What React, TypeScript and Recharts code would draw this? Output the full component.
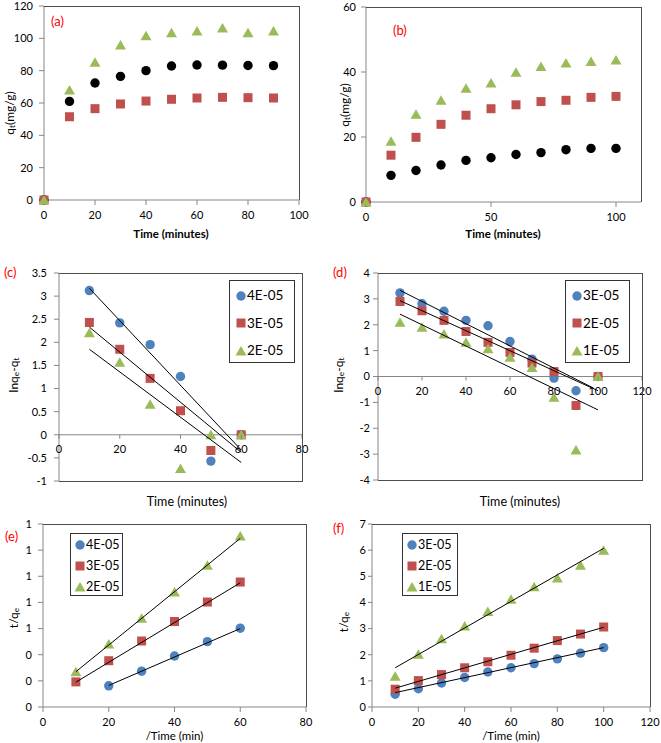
import React from 'react';
import { ScatterChart, Scatter, XAxis, YAxis, ReferenceLine, Legend } from 'recharts';

const FONT = 'Lato, "Liberation Sans", sans-serif';
const GREEN = '#9BBB59';
const RED = '#C0504D';
const BLUE = '#4F81BD';
const BLACK = '#000000';
const AXIS = '#868686';
const FRAME = '#4d4d4d';

// (a) adsorption vs time
const aTime = [0, 10, 20, 30, 40, 50, 60, 70, 80, 90];
const aCircle = [0, 61, 72.4, 76.5, 80, 82.9, 83.5, 83.4, 83.2, 83.1];
const aSquare = [0, 51.5, 56.5, 59.4, 61.2, 62.3, 63.1, 63.5, 63.3, 63.1];
const aTriangle = [0, 68, 85.2, 95.9, 101.6, 103.5, 104.5, 106.4, 103.5, 104.5];
const aXTicks = [0, 20, 40, 60, 80, 100];
const aYTicks = [0, 20, 40, 60, 80, 100, 120];

// (b)
const bTime = [0, 10, 20, 30, 40, 50, 60, 70, 80, 90, 100];
const bCircle = [0, 8.2, 9.7, 11.4, 12.8, 13.6, 14.6, 15.2, 16.1, 16.5, 16.5];
const bSquare = [0, 14.4, 19.9, 23.9, 26.7, 28.7, 29.9, 30.9, 31.3, 32.2, 32.5];
const bTriangle = [0, 18.7, 27, 31.3, 35, 36.6, 39.9, 41.7, 42.8, 43.2, 43.7];
const bXTicks = [0, 50, 100];
const bYTicks = [0, 20, 40, 60];

// (c) pseudo-first-order
const cTime = [10, 20, 30, 40, 50, 60];
const c4 = [3.12, 2.42, 1.95, 1.26, -0.57, 0];
const c3 = [2.43, 1.85, 1.22, 0.52, -0.34, 0];
const c2 = [2.21, 1.57, 0.66, -0.73, 0, 0];
const cFitX = [10, 60];
const c4Fit = [3.17, -0.33];
const c3Fit = [2.33, -0.38];
const c2Fit = [1.85, -0.6];
const cXTicks = [0, 20, 40, 60, 80];
const cYTicks = [-1, -0.5, 0, 0.5, 1, 1.5, 2, 2.5, 3, 3.5];

// (d)
const dTime = [10, 20, 30, 40, 50, 60, 70, 80, 90, 100];
const d3 = [3.23, 2.81, 2.52, 2.17, 1.96, 1.35, 0.67, -0.06, -0.55, 0];
const d2 = [2.9, 2.54, 2.17, 1.74, 1.32, 0.93, 0.52, 0.19, -1.12, 0];
const d1 = [2.1, 1.9, 1.64, 1.32, 1.07, 0.74, 0.35, -0.8, -2.84, 0];
const d3FitX = [10, 98];
const d3Fit = [3.33, -0.45];
const dFitX = [10, 100];
const d2Fit = [2.93, -0.55];
const d1Fit = [2.41, -1.29];
const dXTicks = [0, 20, 40, 60, 80, 100, 120];
const dYTicks = [-4, -3, -2, -1, 0, 1, 2, 3, 4];

// (e) pseudo-second-order
const eTimeC = [20, 30, 40, 50, 60];
const eTime = [10, 20, 30, 40, 50, 60];
const e4 = [0.162, 0.274, 0.39, 0.5, 0.603];
const e3 = [0.192, 0.354, 0.505, 0.654, 0.803, 0.956];
const e2 = [0.269, 0.482, 0.679, 0.879, 1.085, 1.308];
const e4FitX = [20, 60];
const e4Fit = [0.165, 0.6];
const eFitX = [10, 60];
const e3Fit = [0.19, 0.95];
const e2Fit = [0.27, 1.29];
const eXTicks = [0, 20, 40, 60, 80];
const eYTicks = [0, 0.2, 0.4, 0.6, 0.8, 1, 1.2, 1.4];

// (f)
const fTime = [10, 20, 30, 40, 50, 60, 70, 80, 90, 100];
const f3 = [0.49, 0.7, 0.92, 1.13, 1.34, 1.5, 1.66, 1.84, 2.06, 2.27];
const f2 = [0.68, 1.01, 1.24, 1.5, 1.73, 1.98, 2.25, 2.54, 2.79, 3.06];
const f1 = [1.18, 2.02, 2.61, 3.1, 3.65, 4.12, 4.6, 4.93, 5.42, 6.0];
const fFitX = [10, 100];
const f3Fit = [0.55, 2.27];
const f2Fit = [0.72, 3.05];
const f1Fit = [1.5, 6.07];
const fXTicks = [0, 20, 40, 60, 80, 100, 120];
const fYTicks = [0, 1, 2, 3, 4, 5, 6, 7];

type Pt = { x: number; y: number };
type Kind = 'circle' | 'square' | 'triangle';
type Series = { name: string; kind: Kind; color: string; data: Pt[] };
type Part = { t: string; sub?: boolean };

const pts = (xs: number[], ys: number[]): Pt[] => xs.map((x, i) => ({ x, y: ys[i] }));

const Marker = ({ kind, color, cx, cy }: { kind: Kind; color: string; cx: number; cy: number }) => {
  if (kind === 'circle') return <circle cx={cx} cy={cy} r={4.7} fill={color} />;
  if (kind === 'square') return <rect x={cx - 4.5} y={cy - 4.5} width={9} height={9} fill={color} />;
  return <polygon points={`${cx},${cy - 5} ${cx + 5.5},${cy + 4.5} ${cx - 5.5},${cy + 4.5}`} fill={color} />;
};

const Rich = ({ parts, fs }: { parts: Part[]; fs: number }) => {
  let prevSub = false;
  return (
    <>
      {parts.map((p, i) => {
        const dy = p.sub && !prevSub ? 3 : !p.sub && prevSub ? -3 : 0;
        prevSub = !!p.sub;
        return (
          <tspan key={i} dy={dy} fontSize={p.sub ? fs * 0.7 : fs}>
            {p.t}
          </tspan>
        );
      })}
    </>
  );
};

interface LegendBox { left: number; top: number; w: number; h: number; row: number; pad: number; mx: number; tx: number; fs: number }

interface PanelProps {
  left: number; top: number; width: number; height: number;
  plot: { l: number; t: number; r: number; b: number };
  xDomain: [number, number]; xTicks: number[]; xTs: number; xTm: number;
  yDomain: [number, number]; yTicks: number[]; yTs: number; yTm: number; yFmt?: (v: number) => string;
  zeroAxis?: boolean;
  series: Series[];
  fits: Pt[][];
  legend?: LegendBox;
  yTitle: { x: number; cy: number; parts: Part[] };
  xTitle: { text: string; cx: number; base: number; bold?: boolean; fs: number };
}

const XH = 30;

const Panel = (p: PanelProps) => {
  const margin = { top: p.plot.t, right: p.width - p.plot.r, left: 0, bottom: p.height - p.plot.b - XH };
  const plotH = p.plot.b - p.plot.t;
  const zeroOff = (plotH * (0 - p.yDomain[0])) / (p.yDomain[1] - p.yDomain[0]);
  const tickFont = { fontSize: 11, fill: '#000', fontFamily: FONT };

  const zeroTick = (tp: any) => (
    <g>
      <line x1={tp.x} x2={tp.x} y1={tp.y - zeroOff} y2={tp.y - zeroOff + 4} stroke={AXIS} />
      <text x={tp.x} y={tp.y - zeroOff + 18} textAnchor="middle" {...tickFont}>
        {tp.payload.value}
      </text>
    </g>
  );

  const yLabel = () => (
    <text
      x={p.yTitle.x}
      y={p.yTitle.cy}
      transform={`rotate(-90 ${p.yTitle.x} ${p.yTitle.cy})`}
      textAnchor="middle"
      dominantBaseline="central"
      fill="#000"
      fontFamily={FONT}
    >
      <Rich parts={p.yTitle.parts} fs={12} />
    </text>
  );

  const xLabel = () => (
    <text
      x={p.xTitle.cx}
      y={p.xTitle.base}
      textAnchor="middle"
      fill="#000"
      fontFamily={FONT}
      fontSize={p.xTitle.fs}
      fontWeight={p.xTitle.bold ? 700 : 400}
    >
      {p.xTitle.text}
    </text>
  );

  const lg = p.legend;
  const order = p.series.map((s) => s.name);
  const legendContent = (lp: any) => {
    if (!lg) return null;
    const items = (lp.payload || [])
      .filter((e: any) => e.type !== 'none')
      .slice()
      .sort((a: any, b: any) => order.indexOf(a.value) - order.indexOf(b.value));
    return (
      <div
        style={{
          width: lg.w, height: lg.h, boxSizing: 'border-box', border: '1px solid #333',
          background: '#fff', paddingTop: lg.pad, fontFamily: FONT, fontSize: lg.fs, color: '#000',
        }}
      >
        {items.map((e: any) => (
          <div key={e.value} style={{ position: 'relative', height: lg.row }}>
            <svg width={14} height={14} style={{ position: 'absolute', left: lg.mx - 8, top: lg.row / 2 - 7 }}>
              <Marker kind={e.type} color={e.color} cx={7} cy={7} />
            </svg>
            <span style={{ position: 'absolute', left: lg.tx - 1, top: 0, lineHeight: `${lg.row}px` }}>{e.value}</span>
          </div>
        ))}
      </div>
    );
  };

  return (
    <div style={{ position: 'absolute', left: p.left, top: p.top, width: p.width, height: p.height }}>
      <ScatterChart width={p.width} height={p.height} margin={margin}>
        {p.zeroAxis && <ReferenceLine y={0} stroke={AXIS} />}
        <XAxis
          type="number" dataKey="x" domain={p.xDomain} ticks={p.xTicks} interval={0} height={XH}
          axisLine={p.zeroAxis ? false : { stroke: AXIS }}
          tickLine={p.zeroAxis ? false : { stroke: AXIS }}
          tickSize={p.zeroAxis ? 0 : p.xTs} tickMargin={p.zeroAxis ? 0 : p.xTm}
          tick={p.zeroAxis ? zeroTick : tickFont}
          label={xLabel}
        />
        <YAxis
          type="number" dataKey="y" domain={p.yDomain} ticks={p.yTicks} interval={0} width={p.plot.l}
          axisLine={{ stroke: AXIS }} tickLine={{ stroke: AXIS }}
          tickSize={p.yTs} tickMargin={p.yTm} tick={tickFont}
          tickFormatter={p.yFmt}
          label={yLabel}
        />
        {p.series.map((s) => (
          <Scatter
            key={s.name}
            name={s.name}
            data={s.data}
            fill={s.color}
            legendType={s.kind}
            isAnimationActive={false}
            shape={(sp: any) => <Marker kind={s.kind} color={s.color} cx={sp.cx} cy={sp.cy} />}
          />
        ))}
        {p.fits.map((f, i) => (
          <Scatter
            key={`fit${i}`}
            name={`fit${i}`}
            data={f}
            legendType="none"
            line={{ stroke: '#000', strokeWidth: 1 }}
            isAnimationActive={false}
            shape={() => <g />}
          />
        ))}
        {lg && (
          <Legend
            layout="horizontal" verticalAlign="middle" align="center"
            content={legendContent}
            wrapperStyle={{ left: lg.left, top: lg.top, width: lg.w, height: lg.h, margin: 0 }}
          />
        )}
      </ScatterChart>
      {/* plot-area frame: top, right (and bottom when the x axis sits at zero) */}
      <div
        style={{
          position: 'absolute', left: p.plot.l, top: p.plot.t,
          width: p.plot.r - p.plot.l + 1, height: p.plot.b - p.plot.t + (p.zeroAxis ? 1 : 0),
          boxSizing: 'border-box', pointerEvents: 'none',
          borderTop: `1px solid ${FRAME}`, borderRight: `1px solid ${FRAME}`,
          borderBottom: p.zeroAxis ? `1px solid ${FRAME}` : 'none',
        }}
      />
    </div>
  );
};

const qtTitle: Part[] = [{ t: 'q' }, { t: 't', sub: true }, { t: '(mg/g)' }];
const lnTitle: Part[] = [{ t: 'lnq' }, { t: 'e', sub: true }, { t: '-q' }, { t: 't', sub: true }];
const tqTitle: Part[] = [{ t: 't/q' }, { t: 'e', sub: true }];

const tagStyle = (left: number, top: number): React.CSSProperties => ({
  position: 'absolute', left, top, color: '#ff0000', fontFamily: FONT, fontSize: 13, lineHeight: '13px',
});

export default function App() {
  const bigLegend = { left: 0, top: 35, w: 66, h: 83, row: 27.5, pad: 1, mx: 12, tx: 18, fs: 13.5 };
  const smallLegend = { left: 70, top: 18, w: 53, h: 63, row: 21, pad: 0, mx: 10, tx: 16, fs: 12.5 };
  return (
    <div style={{ position: 'absolute', left: 0, top: 0, width: 661, height: 743, background: '#fff', overflow: 'hidden' }}>
      <Panel
        left={0} top={0} width={330} height={245}
        plot={{ l: 44, t: 6, r: 299, b: 200 }}
        xDomain={[0, 100]} xTicks={aXTicks} xTs={5} xTm={6}
        yDomain={[0, 120]} yTicks={aYTicks} yTs={5} yTm={6}
        series={[
          { name: 'c', kind: 'circle', color: BLACK, data: pts(aTime, aCircle) },
          { name: 's', kind: 'square', color: RED, data: pts(aTime, aSquare) },
          { name: 't', kind: 'triangle', color: GREEN, data: pts(aTime, aTriangle) },
        ]}
        fits={[]}
        yTitle={{ x: 9, cy: 113, parts: qtTitle }}
        xTitle={{ text: 'Time (minutes)', cx: 171, base: 238, bold: true, fs: 11.5 }}
      />
      <Panel
        left={330} top={0} width={331} height={245}
        plot={{ l: 36, t: 7, r: 311, b: 202 }}
        xDomain={[0, 110]} xTicks={bXTicks} xTs={5} xTm={6}
        yDomain={[0, 60]} yTicks={bYTicks} yTs={5} yTm={5}
        series={[
          { name: 'c', kind: 'circle', color: BLACK, data: pts(bTime, bCircle) },
          { name: 's', kind: 'square', color: RED, data: pts(bTime, bSquare) },
          { name: 't', kind: 'triangle', color: GREEN, data: pts(bTime, bTriangle) },
        ]}
        fits={[]}
        yTitle={{ x: 14, cy: 105, parts: qtTitle }}
        xTitle={{ text: 'Time (minutes)', cx: 173, base: 238, bold: true, fs: 11.5 }}
      />
      <Panel
        left={0} top={245} width={330} height={270}
        plot={{ l: 59, t: 28, r: 302, b: 236 }}
        xDomain={[0, 80]} xTicks={cXTicks} xTs={0} xTm={0}
        yDomain={[-1, 3.5]} yTicks={cYTicks} yTs={5} yTm={7}
        zeroAxis
        series={[
          { name: '4E-05', kind: 'circle', color: BLUE, data: pts(cTime, c4) },
          { name: '3E-05', kind: 'square', color: RED, data: pts(cTime, c3) },
          { name: '2E-05', kind: 'triangle', color: GREEN, data: pts(cTime, c2) },
        ]}
        fits={[pts(cFitX, c4Fit), pts(cFitX, c3Fit), pts(cFitX, c2Fit)]}
        legend={{ ...bigLegend, left: 229 }}
        yTitle={{ x: 13, cy: 130, parts: lnTitle }}
        xTitle={{ text: 'Time (minutes)', cx: 187, base: 261, fs: 12.5 }}
      />
      <Panel
        left={330} top={245} width={331} height={270}
        plot={{ l: 48, t: 28, r: 312, b: 235 }}
        xDomain={[0, 120]} xTicks={dXTicks} xTs={0} xTm={0}
        yDomain={[-4, 4]} yTicks={dYTicks} yTs={5} yTm={3}
        zeroAxis
        series={[
          { name: '3E-05', kind: 'circle', color: BLUE, data: pts(dTime, d3) },
          { name: '2E-05', kind: 'square', color: RED, data: pts(dTime, d2) },
          { name: '1E-05', kind: 'triangle', color: GREEN, data: pts(dTime, d1) },
        ]}
        fits={[pts(d3FitX, d3Fit), pts(dFitX, d2Fit), pts(dFitX, d1Fit)]}
        legend={{ ...bigLegend, left: 235, w: 65 }}
        yTitle={{ x: 8, cy: 130, parts: lnTitle }}
        xTitle={{ text: 'Time (minutes)', cx: 190, base: 261, fs: 12.5 }}
      />
      <Panel
        left={0} top={515} width={330} height={228}
        plot={{ l: 43, t: 9, r: 306, b: 192 }}
        xDomain={[0, 80]} xTicks={eXTicks} xTs={5} xTm={6}
        yDomain={[0, 1.4]} yTicks={eYTicks} yTs={5} yTm={6}
        yFmt={(v: number) => v.toFixed(0)}
        series={[
          { name: '4E-05', kind: 'circle', color: BLUE, data: pts(eTimeC, e4) },
          { name: '3E-05', kind: 'square', color: RED, data: pts(eTime, e3) },
          { name: '2E-05', kind: 'triangle', color: GREEN, data: pts(eTime, e2) },
        ]}
        fits={[pts(e4FitX, e4Fit), pts(eFitX, e3Fit), pts(eFitX, e2Fit)]}
        legend={smallLegend}
        yTitle={{ x: 12.5, cy: 103, parts: tqTitle }}
        xTitle={{ text: '/Time (min)', cx: 174.5, base: 225, fs: 11.5 }}
      />
      <Panel
        left={330} top={515} width={331} height={228}
        plot={{ l: 42, t: 9, r: 320, b: 192 }}
        xDomain={[0, 120]} xTicks={fXTicks} xTs={5} xTm={6}
        yDomain={[0, 7]} yTicks={fYTicks} yTs={4} yTm={2}
        series={[
          { name: '3E-05', kind: 'circle', color: BLUE, data: pts(fTime, f3) },
          { name: '2E-05', kind: 'square', color: RED, data: pts(fTime, f2) },
          { name: '1E-05', kind: 'triangle', color: GREEN, data: pts(fTime, f1) },
        ]}
        fits={[pts(fFitX, f3Fit), pts(fFitX, f2Fit), pts(fFitX, f1Fit)]}
        legend={{ ...smallLegend, left: 72, w: 56 }}
        yTitle={{ x: 12.5, cy: 107, parts: tqTitle }}
        xTitle={{ text: '/Time (min)', cx: 181, base: 225, fs: 11.5 }}
      />
      <span style={tagStyle(51, 15)}>(a)</span>
      <span style={tagStyle(393, 24)}>(b)</span>
      <span style={tagStyle(4, 266)}>(c)</span>
      <span style={tagStyle(333, 266)}>(d)</span>
      <span style={tagStyle(5, 530)}>(e)</span>
      <span style={tagStyle(333, 522)}>(f)</span>
    </div>
  );
}
